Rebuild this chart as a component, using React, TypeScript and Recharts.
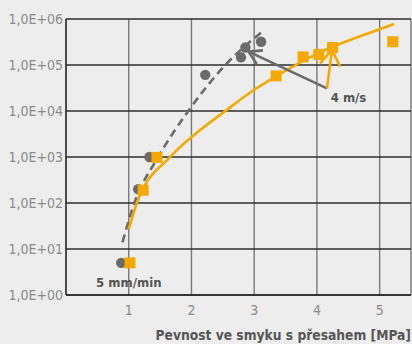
import React from "react";
import {
  ComposedChart,
  Line,
  Scatter,
  XAxis,
  YAxis,
  CartesianGrid,
  ReferenceLine,
  ReferenceDot,
} from "recharts";

// ---- data ----
const xTicks = [1, 2, 3, 4, 5];
const yTicks = [1, 10, 100, 1000, 10000, 100000, 1000000];
const yTickLabels = ["1,0E+00", "1,0E+01", "1,0E+02", "1,0E+03", "1,0E+04", "1,0E+05", "1,0E+06"];
const xAxisTitle = "Pevnost ve smyku s přesahem [MPa]";

// slow test (5 mm/min) – gray circles
const grayX = [0.88, 1.15, 1.33, 2.22, 2.79, 2.86, 3.11];
const grayY = [5, 200, 1000, 61000, 147000, 240000, 320000];

// fast test (4 m/s) – orange squares
const orangeX = [1.02, 1.23, 1.45, 3.35, 3.78, 4.03, 4.25, 5.21];
const orangeY = [5, 190, 980, 58000, 150000, 170000, 240000, 320000];

// fitted trend curves
const grayCurveX = [0.9, 1.09, 1.47, 1.95, 2.54, 3.13];
const grayCurveY = [14, 100, 1000, 10000, 100000, 530000];

const orangeCurveX = [1.0, 1.13, 1.66, 2.0, 2.54, 3.0, 3.33, 4.0, 5.0, 5.23];
const orangeCurveY = [27, 100, 1000, 2700, 10000, 29000, 55000, 175000, 600000, 780000];

// annotations (data coordinates)
const arrowOrigin = { x: 4.16, y: 31000 };
const grayArrowTip = { x: 2.91, y: 195000 };
const grayArrowWings = [
  { x: 3.04, y: 105000 },
  { x: 3.14, y: 208000 },
];
const orangeArrowTip = { x: 4.24, y: 213000 };
const orangeArrowWings = [
  { x: 4.05, y: 109000 },
  { x: 4.37, y: 92000 },
];
const labelFast = { x: 4.22, y: 16000, text: "4 m/s" };
const labelSlow = { x: 0.48, y: 1.49, text: "5 mm/min" };

const zip = (xs: number[], ys: number[]) => xs.map((x, i) => ({ x, y: ys[i] }));
const grayPoints = zip(grayX, grayY);
const orangePoints = zip(orangeX, orangeY);
const grayCurve = zip(grayCurveX, grayCurveY);
const orangeCurve = zip(orangeCurveX, orangeCurveY);

// ---- styles ----
const ORANGE = "#f5a800";
const GRAY = "#6b6b6b";
const TEXT_DARK = "#555555";
const TICK = "#8a8a8a";
const FONT = "'DejaVu Sans Condensed', 'DejaVu Sans', sans-serif";

const CircleShape = (p: any) => <circle cx={p.cx} cy={p.cy} r={5.2} fill={GRAY} />;
const SquareShape = (p: any) => (
  <rect x={p.cx - 5.5} y={p.cy - 5.5} width={11} height={11} fill={ORANGE} />
);

const makeTextShape = (text: string) => (p: any) => (
  <text
    x={p.cx}
    y={p.cy}
    fill={TEXT_DARK}
    fontFamily={FONT}
    fontWeight="bold"
    fontSize={13}
  >
    {text}
  </text>
);

export default function App() {
  return (
    <div
      style={{
        position: "absolute",
        left: 0,
        top: 0,
        width: 412,
        height: 344,
        background: "#ededed",
      }}
    >
      <ComposedChart
        width={412}
        height={344}
        margin={{ top: 19, right: 1, bottom: 0, left: 0 }}
      >
        <CartesianGrid horizontal={false} stroke="#787878" strokeWidth={1.4} />
        <CartesianGrid vertical={false} stroke="#2e2e2e" strokeWidth={1.3} />
        <XAxis
          type="number"
          dataKey="x"
          domain={[0, 5.5]}
          ticks={xTicks}
          allowDataOverflow
          height={49}
          tickLine={false}
          tickSize={0}
          tickMargin={10}
          axisLine={{ stroke: "#2a2a2a", strokeWidth: 1.4 }}
          tick={{ fill: TICK, fontSize: 14, fontFamily: FONT }}
          label={(props: any) => {
            const vb = props.viewBox;
            return (
              <text
                x={vb.x + vb.width}
                y={vb.y + 44.5}
                textAnchor="end"
                fill={TEXT_DARK}
                fontFamily={FONT}
                fontWeight="bold"
                fontSize={13.7}
              >
                {xAxisTitle}
              </text>
            );
          }}
        />
        <YAxis
          type="number"
          dataKey="y"
          scale="log"
          domain={[1, 1000000]}
          ticks={yTicks}
          allowDataOverflow
          width={66}
          tickLine={false}
          tickSize={0}
          tickMargin={3}
          axisLine={{ stroke: "#2a2a2a", strokeWidth: 1.4 }}
          tick={{ fill: TICK, fontSize: 14, fontFamily: FONT }}
          tickFormatter={(v: number) => yTickLabels[yTicks.indexOf(v)] ?? String(v)}
        />
        <Line
          data={grayCurve}
          dataKey="y"
          type="monotone"
          stroke={GRAY}
          strokeWidth={2.6}
          strokeDasharray="8 5"
          dot={false}
          activeDot={false}
          isAnimationActive={false}
        />
        <Line
          data={orangeCurve}
          dataKey="y"
          type="monotone"
          stroke={ORANGE}
          strokeWidth={2.6}
          dot={false}
          activeDot={false}
          isAnimationActive={false}
        />
        <ReferenceLine
          segment={[arrowOrigin, grayArrowTip]}
          stroke={GRAY}
          strokeWidth={2.6}
          ifOverflow="visible"
        />
        {grayArrowWings.map((w, i) => (
          <ReferenceLine
            key={"gw" + i}
            segment={[grayArrowTip, w]}
            stroke={GRAY}
            strokeWidth={2.6}
            ifOverflow="visible"
          />
        ))}
        <ReferenceLine
          segment={[arrowOrigin, orangeArrowTip]}
          stroke={ORANGE}
          strokeWidth={2.6}
          ifOverflow="visible"
        />
        {orangeArrowWings.map((w, i) => (
          <ReferenceLine
            key={"ow" + i}
            segment={[orangeArrowTip, w]}
            stroke={ORANGE}
            strokeWidth={2.6}
            ifOverflow="visible"
          />
        ))}
        <Scatter data={grayPoints} shape={CircleShape} isAnimationActive={false} />
        <Scatter data={orangePoints} shape={SquareShape} isAnimationActive={false} />
        <ReferenceDot
          x={labelFast.x}
          y={labelFast.y}
          r={0}
          ifOverflow="visible"
          shape={makeTextShape(labelFast.text)}
        />
        <ReferenceDot
          x={labelSlow.x}
          y={labelSlow.y}
          r={0}
          ifOverflow="visible"
          shape={makeTextShape(labelSlow.text)}
        />
      </ComposedChart>
    </div>
  );
}
